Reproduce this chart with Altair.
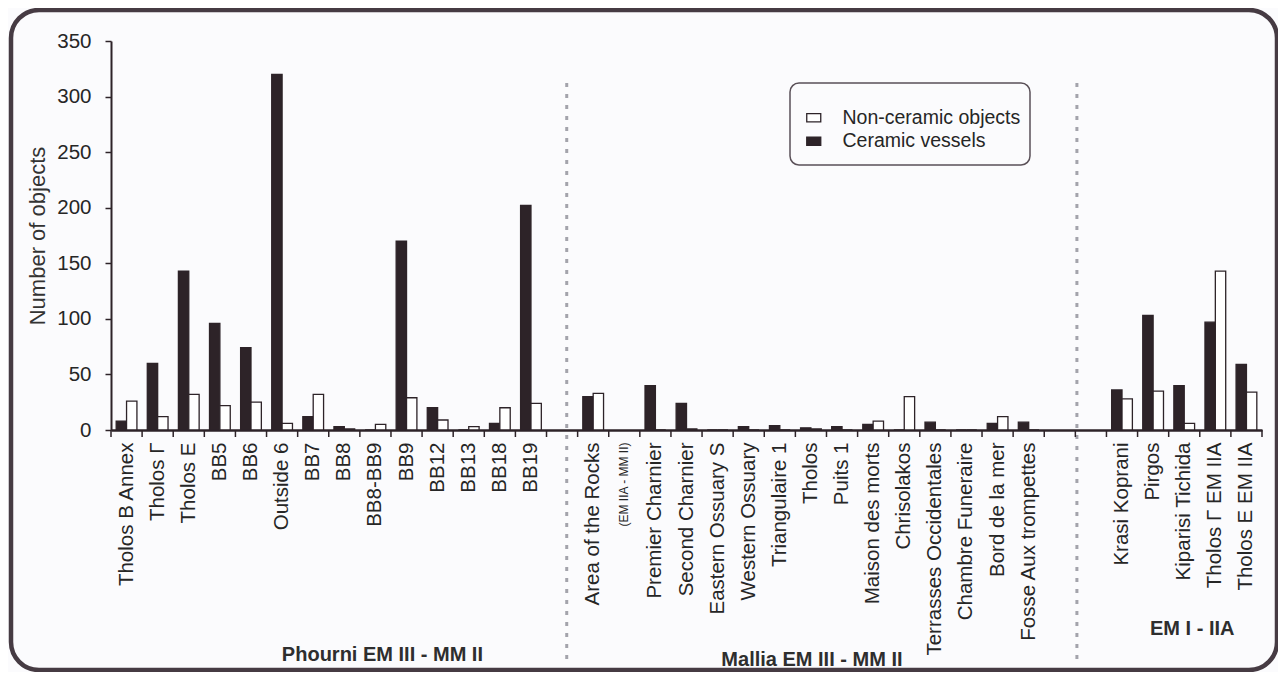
import altair as alt
import pandas as pd

# ---------------- data ----------------
categories = [
    "Tholos B Annex", "Tholos Γ", "Tholos E", "BB5", "BB6", "Outside 6", "BB7", "BB8",
    "BB8-BB9", "BB9", "BB12", "BB13", "BB18", "BB19",
    " ",
    "Area of the Rocks", "(EM IIA - MM II)", "Premier Charnier", "Second Charnier",
    "Eastern Ossuary S", "Western Ossuary", "Triangulaire 1", "Tholos", "Puits 1",
    "Maison des morts", "Chrisolakos", "Terrasses Occidentales", "Chambre Funeraire",
    "Bord de la mer", "Fosse Aux trompettes",
    "  ", "   ",
    "Krasi Koprani", "Pirgos", "Kiparisi Tichida", "Tholos Γ EM IIA", "Tholos E EM IIA",
]
ceramic_vessels = [
    8, 60, 143, 96, 74, 320, 12, 3, 0, 170, 20, 0, 6, 202,
    None,
    30, None, 40, 24, 0, 3, 4, 2, 3, 5, 0, 7, 0, 6, 7,
    None, None,
    36, 103, 40, 97, 59,
]
non_ceramic_objects = [
    26, 12, 32, 22, 25, 6, 32, 1, 5, 29, 9, 3, 20, 24,
    None,
    33, None, 0, 1, 0, 0, 0, 1, 0, 8, 30, 0, 0, 12, 0,
    None, None,
    28, 35, 6, 143, 34,
]
series_names = ["Non-ceramic objects", "Ceramic vessels"]
group_names = ["Phourni EM III - MM II", "Mallia EM III - MM II", "EM I - IIA"]
group_anchor = ["BB8-BB9", "Tholos", "Kiparisi Tichida"]
separators = [" ", "   "]

rows = []
for c, cv, nc in zip(categories, ceramic_vessels, non_ceramic_objects):
    if cv is not None:
        rows.append({"site": c, "series": "Ceramic vessels", "count": cv})
    if nc is not None:
        rows.append({"site": c, "series": "Non-ceramic objects", "count": nc})
df = pd.DataFrame(rows)
cat_df = pd.DataFrame({"site": categories})

FONT = "Liberation Sans"
DARK = "#2d2328"
TXT = "#262626"
W, H = 1151, 389

xscale = alt.Scale(domain=categories, paddingInner=0, paddingOuter=0)
yscale = alt.Scale(domain=[0, 350], nice=False)

bars = alt.Chart(df).mark_bar(stroke=DARK, strokeWidth=1.3).encode(
    x=alt.X("site:N", scale=xscale, sort=categories,
            axis=alt.Axis(title=None, labelAngle=270, ticks=False, labelPadding=12,
                          labelFont=FONT, labelColor=TXT, labelLimit=400,
                          labelFontSize={"condition": {"test": "datum.value === '(EM IIA - MM II)'", "value": 12}, "value": 20.5},
                          domainColor=DARK, domainWidth=2.5)),
    xOffset=alt.XOffset("series:N", sort=["Ceramic vessels", "Non-ceramic objects"],
                        scale=alt.Scale(paddingOuter=0.5, paddingInner=0)),
    y=alt.Y("count:Q", scale=yscale,
            axis=alt.Axis(title="Number of objects", values=list(range(0, 351, 50)),
                          grid=False, labelFont=FONT, labelFontSize=20.5, labelColor=TXT,
                          labelPadding=14, tickSize=6, tickColor=DARK, tickWidth=1.5,
                          domainColor=DARK, domainWidth=2,
                          titleFont=FONT, titleFontSize=22, titleFontWeight="normal",
                          titleColor="#333333", titlePadding=7)),
    color=alt.Color("series:N", scale=alt.Scale(domain=series_names, range=["#ffffff", DARK]),
                    legend=alt.Legend(title=None, orient="none", legendX=693, legendY=67,
                                      labelFont=FONT, labelFontSize=19.5, labelColor=TXT,
                                      labelLimit=400,
                                      symbolType="M-1,-0.6L1,-0.6L1,0.6L-1,0.6Z", symbolSize=196,
                                      symbolStrokeColor=DARK, symbolStrokeWidth=1.3,
                                      labelOffset=19, rowPadding=2.5, padding=0)),
)

# category boundary ticks below the axis
ticks = alt.Chart(cat_df).mark_rule(color=DARK, strokeWidth=1.5).encode(
    x=alt.X("site:N", scale=xscale, sort=categories, bandPosition=0),
    y=alt.value(H), y2=alt.value(H + 7),
)
last_tick = alt.Chart(cat_df.tail(1)).mark_rule(color=DARK, strokeWidth=1.5).encode(
    x=alt.X("site:N", scale=xscale, sort=categories, bandPosition=1),
    y=alt.value(H), y2=alt.value(H + 7),
)

sep1 = alt.Chart(pd.DataFrame({"site": [separators[0]]})).mark_rule(
    color="#a3a3ab", strokeWidth=3, strokeDash=[4, 7]).encode(
    x=alt.X("site:N", scale=xscale, sort=categories, bandPosition=0.65),
    y=alt.value(42), y2=alt.value(619),
)
sep2 = alt.Chart(pd.DataFrame({"site": [separators[1]]})).mark_rule(
    color="#a3a3ab", strokeWidth=3, strokeDash=[4, 7]).encode(
    x=alt.X("site:N", scale=xscale, sort=categories, bandPosition=0.05),
    y=alt.value(42), y2=alt.value(619),
)

def group_label(name, anchor, ypix, dx):
    return alt.Chart(pd.DataFrame({"site": [anchor], "label": [name]})).mark_text(
        font=FONT, fontSize=20, fontWeight="bold", color="#2e2e2e",
        align="center", baseline="middle", dx=dx).encode(
        x=alt.X("site:N", scale=xscale, sort=categories),
        y=alt.value(ypix), text="label:N",
    )

g1 = group_label(group_names[0], group_anchor[0], 614, 7)
g2 = group_label(group_names[1], group_anchor[1], 619, 1)
g3 = group_label(group_names[2], group_anchor[2], 588, 8)

frame = alt.Chart(alt.Data(values=[{}])).mark_rect(
    filled=False, stroke="#463b43", strokeWidth=4.5, cornerRadius=28).encode(
    x=alt.value(-100), x2=alt.value(1166), y=alt.value(-31), y2=alt.value(629),
)
legend_box = alt.Chart(alt.Data(values=[{}])).mark_rect(
    filled=False, stroke="#5a5058", strokeWidth=1.5, cornerRadius=9).encode(
    x=alt.value(679), x2=alt.value(919), y=alt.value(42), y2=alt.value(124),
)

chart = alt.layer(frame, legend_box, sep1, sep2, bars, ticks, last_tick, g1, g2, g3).properties(
    width=W, height=H,
    autosize=alt.AutoSizeParams(type="none"),
    padding={"left": 103, "top": 33, "right": 16, "bottom": 242},
    background="#fbfbfd",
).configure_view(stroke=None)

chart.save("out.html", embed_options={"renderer": "svg", "actions": False})
